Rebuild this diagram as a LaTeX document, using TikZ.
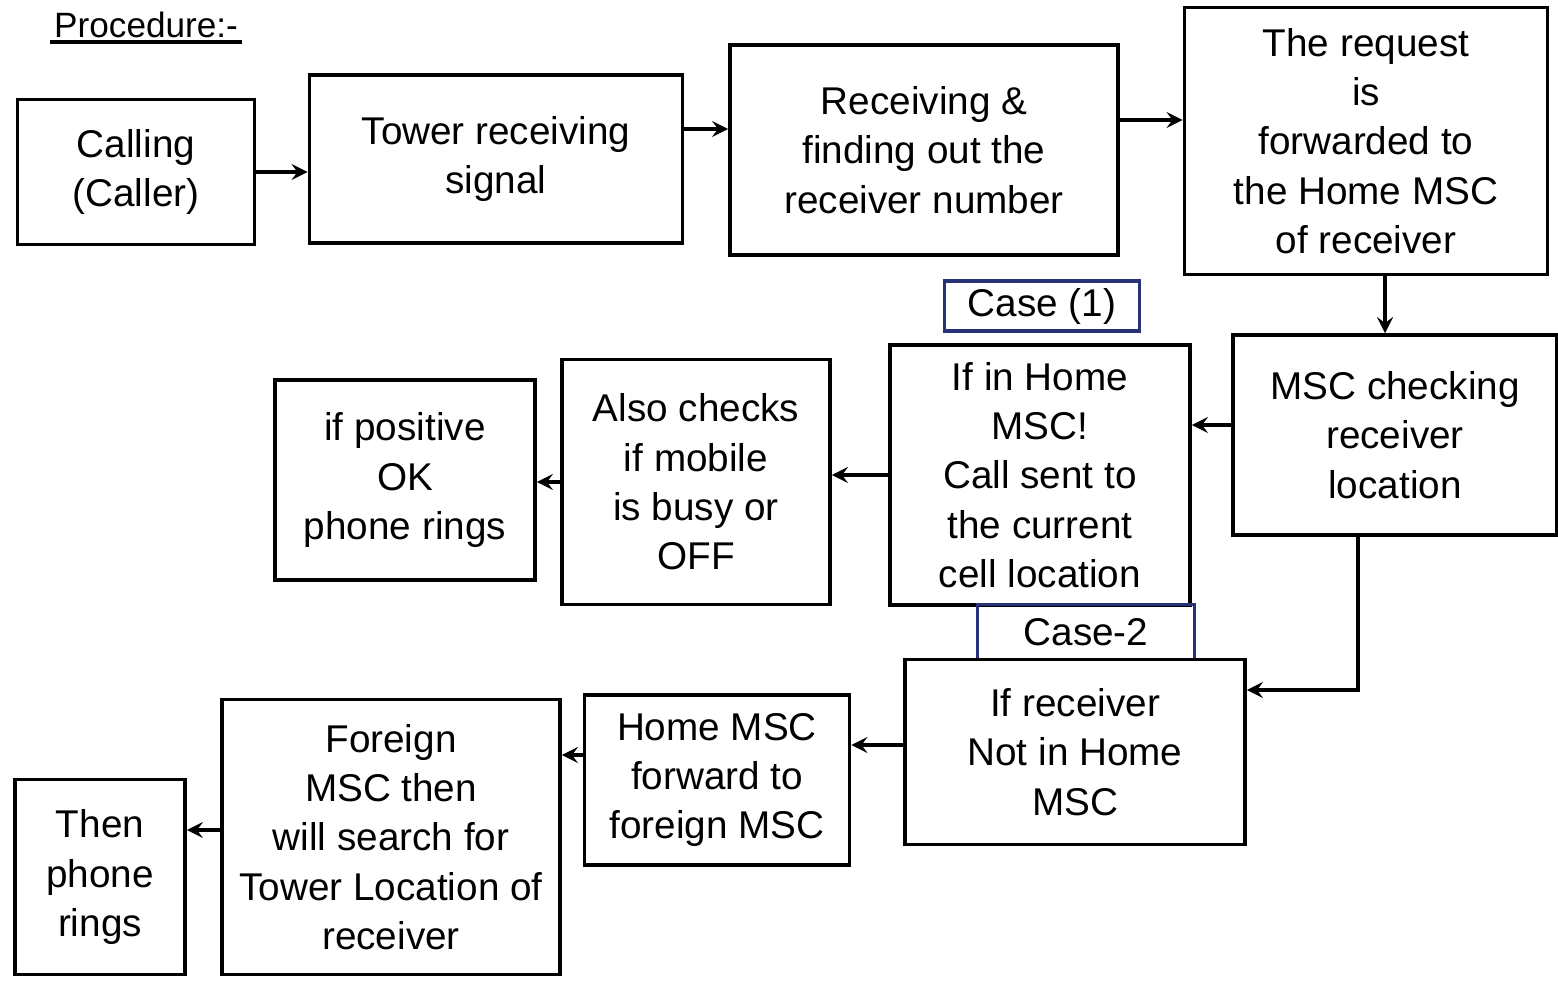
\documentclass[tikz,border=0pt]{standalone}
\usepackage{fontspec}
\setmainfont{Liberation Sans}
\usetikzlibrary{
    arrows.meta,
    positioning,
    calc
}
\definecolor{caseblue}{RGB}{40, 50, 120}

\begin{document}
\begin{tikzpicture}[
        x=0.01cm, y=-0.01cm,
        block/.style={draw, line width=1pt, align=center, inner sep=2pt, font=\fontsize{11}{14}\selectfont},
        caselabel/.style={draw=caseblue, line width=1pt, align=center, inner sep=2pt, font=\fontsize{11}{13}\selectfont},
        arrow/.style={->, line width=1pt, >=stealth}
    ]
        % Page size
        \useasboundingbox (0,0) rectangle (1558,999);

        % Heading
        \node[font=\fontsize{10}{12}\selectfont, inner sep=1pt, anchor=south west] (head) at (50,42) {Procedure:-};
        \draw[line width=1pt] (head.south west) -- (head.south east);

        % First row
        \node[block, minimum width=2.37cm, minimum height=1.45cm] (call) at (136,172) {
            Calling\\
            (Caller)
        };
        \node[block, minimum width=3.73cm, minimum height=1.68cm] (tower) at (496,159) {
            Tower receiving\\
            signal
        };
        \node[block, minimum width=3.88cm, minimum height=2.1cm] (recv) at (924,150) {
            Receiving \&\\
            finding out the\\
            receiver number
        };
        \node[block, minimum width=3.63cm, minimum height=2.67cm] (fwd) at (1366,141) {
            The request\\
            is\\
            forwarded to\\
            the Home MSC\\
            of receiver
        };

        % Second row
        \node[block, minimum width=3.24cm, minimum height=2.0cm] (mscchk) at (1395,435) {
            MSC checking\\
            receiver\\
            location
        };
        \node[block, minimum width=3.0cm, minimum height=2.6cm] (homecase) at (1040,475) {
            If in Home\\
            MSC!\\
            Call sent to\\
            the current\\
            cell location
        };
        \node[caselabel, minimum width=1.95cm, minimum height=0.47cm] (case1) at (1042,306) {Case (1)};
        \node[block, minimum width=2.68cm, minimum height=2.45cm] (busychk) at (696,482) {
            Also checks\\
            if mobile\\
            is busy or\\
            OFF
        };
        \node[block, minimum width=2.6cm, minimum height=2.0cm] (ringok) at (405,480) {
            if positive\\
            OK\\
            phone rings
        };

        % Third row
        \node[caselabel, minimum width=2.17cm, minimum height=0.55cm] (case2) at (1086,632) {Case-2};
        \node[block, minimum width=3.4cm, minimum height=1.85cm] (nothome) at (1075,752) {
            If receiver\\
            Not in Home\\
            MSC
        };
        \node[block, minimum width=2.65cm, minimum height=1.7cm] (homefwd) at (717,780) {
            Home MSC\\
            forward to\\
            foreign MSC
        };
        \node[block, minimum width=3.38cm, minimum height=2.75cm] (foreign) at (391,837) {
            Foreign\\
            MSC then\\
            will search for\\
            Tower Location of\\
            receiver
        };
        \node[block, minimum width=1.7cm, minimum height=1.95cm] (ringfinal) at (100,877) {
            Then\\
            phone\\
            rings
        };

        % Arrows
        \draw[arrow] (call.east) -- (call.east -| tower.west);
        \draw[arrow] ([yshift=0.3cm]tower.east) -- ([yshift=0.3cm]tower.east -| recv.west);
        \draw[arrow] ([yshift=0.3cm]recv.east) -- ([yshift=0.3cm]recv.east -| fwd.west);
        \draw[arrow] ([xshift=0.19cm]fwd.south) -- ([xshift=0.19cm]fwd.south |- mscchk.north);

        \draw[arrow] ([yshift=0.1cm]mscchk.west) -- ([yshift=0.1cm]mscchk.west -| homecase.east);
        \draw[arrow] (homecase.west) -- (homecase.west -| busychk.east);
        \draw[arrow] (busychk.west) -- (busychk.west -| ringok.east);

        \draw[arrow] ([xshift=-0.37cm]mscchk.south) |- ([yshift=0.62cm]nothome.east);
        \draw[arrow] ([yshift=0.07cm]nothome.west) -- ([yshift=0.07cm]nothome.west -| homefwd.east);
        \draw[arrow] ([yshift=0.25cm]homefwd.west) -- ([yshift=0.25cm]homefwd.west -| foreign.east);
        \draw[arrow] ([yshift=0.07cm]foreign.west) -- ([yshift=0.07cm]foreign.west -| ringfinal.east);
    \end{tikzpicture}
\end{document}
